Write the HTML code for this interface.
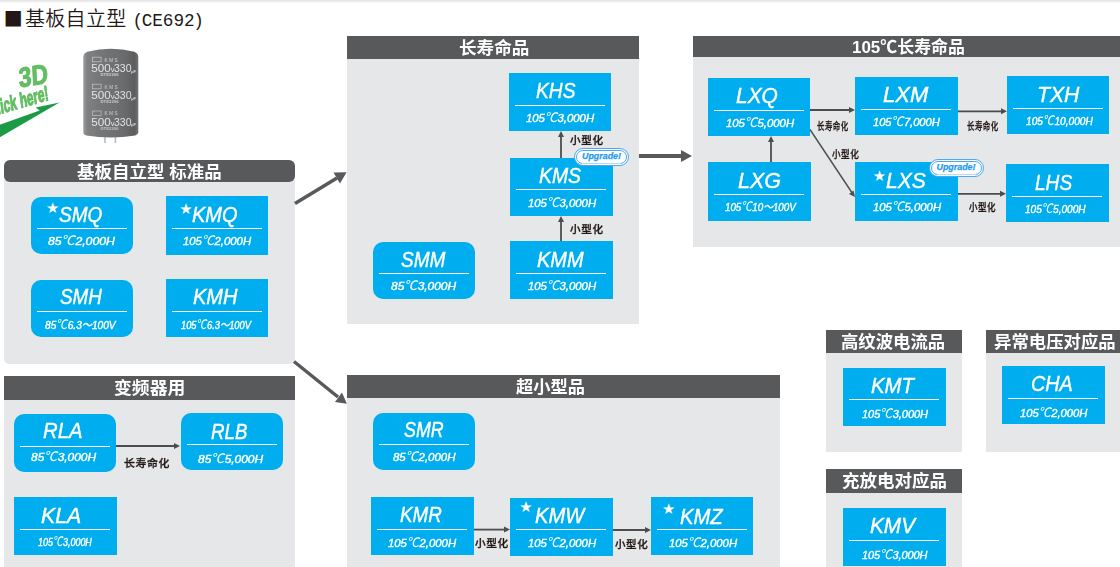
<!DOCTYPE html>
<html lang="zh-CN">
<head>
<meta charset="utf-8">
<title>基板自立型 (CE692)</title>
<style>
html,body{margin:0;padding:0;background:#fff;}
body{width:1120px;height:567px;overflow:hidden;font-family:"Liberation Sans","Noto Sans CJK SC",sans-serif;}
#page{position:relative;width:1120px;height:567px;overflow:hidden;background:#fff;}
.topbar{position:absolute;left:0;top:0;width:1120px;height:3px;background:linear-gradient(#e2e2e2,#f1f1f1 60%,#fff);}
.title{position:absolute;left:5px;top:6px;margin:0;font-weight:400;font-size:19px;line-height:24px;color:#231815;white-space:nowrap;}
.title .sq{display:inline-block;width:20px;height:24px;line-height:24px;vertical-align:top;position:relative;}
.title .sq i{position:absolute;left:-1.2px;top:-0.6px;font-style:normal;font-family:"DejaVu Sans",sans-serif;font-size:20px;line-height:24px;}
.title .zh{letter-spacing:0.3px;font-size:20px;font-family:"Noto Sans CJK SC",sans-serif;font-weight:350;}
.title .code{font-family:"Liberation Mono",monospace;font-size:17.7px;margin-left:6px;}
.title .code .p1{margin-right:-1.5px;}
.title .code .p2{margin-left:-1.5px;}
.pn{position:absolute;background:#e6e7e8;}
.pn.rnd{border-radius:6px 6px 5px 5px;}
.ph{position:relative;background:#58595b;color:#fff;}
.pn.rnd .ph{border-radius:6px;}
.ht{position:absolute;height:25px;line-height:25px;font-weight:700;font-size:17.2px;font-family:"Liberation Sans","Noto Sans CJK SC",sans-serif;white-space:nowrap;transform-origin:0 50%;}
.pb{position:absolute;background:#00aeef;color:#fff;}
.pb.r{border-radius:10px;}
.n{position:absolute;top:4.8px;height:26px;line-height:26px;font-style:italic;font-size:21.8px;-webkit-text-stroke:0.4px #fff;white-space:nowrap;transform-origin:0 50%;}
.st{position:absolute;font-style:normal;line-height:1;font-family:"DejaVu Sans",sans-serif;}
.ln{position:absolute;left:6px;width:90px;top:32px;height:1px;background:#fff;}
.s{position:absolute;top:35.1px;height:16px;line-height:16px;font-style:italic;font-size:11.6px;-webkit-text-stroke:0.4px #fff;white-space:nowrap;transform-origin:0 50%;}
.lb{position:absolute;height:16px;line-height:16px;font-size:10.6px;font-weight:500;letter-spacing:0.6px;color:#231815;-webkit-text-stroke:0.3px #231815;white-space:nowrap;font-family:"Noto Sans CJK SC",sans-serif;transform-origin:0 50%;}
.up{position:absolute;width:55px;height:18px;box-sizing:border-box;border:1px solid #4aa9f0;border-radius:9px;background:#fff;}
.up:before{content:"";position:absolute;left:1px;top:1px;right:1px;bottom:1px;border:1px solid #4aa9f0;border-radius:8px;}
.up span{position:absolute;left:0;right:0;top:-0.6px;height:16px;line-height:16px;text-align:center;font-size:8.9px;font-weight:700;font-style:italic;color:#1e9af0;-webkit-text-stroke:0.25px #1e9af0;}
svg.art{position:absolute;left:0;top:0;}
.s .c{font-family:"Noto Sans CJK SC",sans-serif;font-size:13px;font-weight:400;-webkit-text-stroke:0;line-height:16px;vertical-align:baseline;margin:0 0.5px 0 -0.5px;}
.up:after{content:"";position:absolute;left:7px;right:7px;bottom:1px;height:1px;background:#b5daf9;}

</style>
</head>
<body>
<div id="page">
<div class="topbar"></div>
<h1 class="title"><span class="sq"><i>■</i></span><span class="zh">基板自立型</span><span class="code"><span class="p1">(</span>CE692<span class="p2">)</span></span></h1>
<svg class="pic" width="160" height="112" viewBox="0 36 160 112" style="position:absolute;left:0;top:36px">
<defs>
<linearGradient id="cg" x1="0" y1="0" x2="1" y2="0">
<stop offset="0" stop-color="#9c9d9f"/><stop offset="0.07" stop-color="#808183"/><stop offset="0.3" stop-color="#757678"/><stop offset="0.75" stop-color="#6a6b6d"/><stop offset="0.93" stop-color="#5c5d5f"/><stop offset="1" stop-color="#707173"/>
</linearGradient>
<filter id="bl" x="-5%" y="-5%" width="110%" height="110%"><feGaussianBlur stdDeviation="0.45"/></filter>
<filter id="bl2" x="-5%" y="-5%" width="110%" height="110%"><feGaussianBlur stdDeviation="0.35"/></filter>
</defs>
<g filter="url(#bl)">
<rect x="104.2" y="134" width="1.6" height="9" fill="#b9babc"/>
<rect x="114.6" y="134" width="1.6" height="9" fill="#b9babc"/>
<path d="M83.3,57 Q83.4,53.4 87.3,51.8 Q110.8,45.6 134.3,51.8 Q138.2,53.4 138.3,57 L138.3,132.3 Q138.2,134.8 135.2,135.6 Q110.8,139.4 86.4,135.6 Q83.4,134.8 83.3,132.3 Z" fill="url(#cg)"/>
</g>
<g fill="#fff" font-family="'Liberation Sans',sans-serif" filter="url(#bl2)" opacity="0.8">
<g id="lab1">
<rect x="92.5" y="57.2" width="8.6" height="4.6" fill="none" stroke="#fff" stroke-width="0.7" opacity="0.75"/>
<text x="104.5" y="61.6" font-size="4.6" letter-spacing="1.6" opacity="0.85">KMS</text>
<text x="91.3" y="72.2" font-size="11.4" textLength="19.5" lengthAdjust="spacingAndGlyphs">500</text>
<text x="110.8" y="72.2" font-size="7.5">v</text>
<text x="114" y="72.2" font-size="11.8" textLength="17.5" lengthAdjust="spacingAndGlyphs">330</text>
<text x="131.2" y="72.6" font-size="3.8" font-weight="700">µF</text>
<text x="100.5" y="76" font-size="3.4" font-weight="700" opacity="0.8" textLength="18" lengthAdjust="spacingAndGlyphs">DTE2206</text>
</g>
<g>
<rect x="92.5" y="84.2" width="8.6" height="4.6" fill="none" stroke="#fff" stroke-width="0.7" opacity="0.7"/>
<text x="104.5" y="88.6" font-size="4.6" letter-spacing="1.6" opacity="0.8">KMS</text>
<text x="91.3" y="99.2" font-size="11.4" textLength="19.5" lengthAdjust="spacingAndGlyphs">500</text>
<text x="110.8" y="99.2" font-size="7.5">v</text>
<text x="114" y="99.2" font-size="11.8" textLength="17.5" lengthAdjust="spacingAndGlyphs">330</text>
<text x="131.2" y="99.6" font-size="3.8" font-weight="700">µF</text>
<text x="100.5" y="103" font-size="3.4" font-weight="700" opacity="0.75" textLength="18" lengthAdjust="spacingAndGlyphs">DTE2206</text>
</g>
<g>
<rect x="92.5" y="111" width="8.6" height="4.6" fill="none" stroke="#fff" stroke-width="0.7" opacity="0.65"/>
<text x="104.5" y="115.4" font-size="4.6" letter-spacing="1.6" opacity="0.8">KMS</text>
<text x="91.3" y="126" font-size="11.4" textLength="19.5" lengthAdjust="spacingAndGlyphs">500</text>
<text x="110.8" y="126" font-size="7.5">v</text>
<text x="114" y="126" font-size="11.8" textLength="17.5" lengthAdjust="spacingAndGlyphs">330</text>
<text x="131.2" y="126.4" font-size="3.8" font-weight="700">µF</text>
<text x="100.5" y="129.8" font-size="3.4" font-weight="700" opacity="0.7" textLength="18" lengthAdjust="spacingAndGlyphs">DTE2206</text>
</g>
</g>
<g filter="url(#bl2)">
<polygon points="59.5,102.6 35.7,107.4 39.7,110.5 -1,125 -1,137.8" fill="#1e9b47"/>
<g fill="#63bd63" stroke="#63bd63" stroke-width="0.9" stroke-linejoin="round" font-family="'Liberation Sans',sans-serif" font-weight="700">
<text transform="translate(19.3,87.6) rotate(-9) skewX(-6) scale(0.98,1.17)" font-size="23.5">3D</text>
<text transform="translate(-10.5,117) rotate(-16) skewX(-8) scale(0.76,1.3)" font-size="16">Click here!</text>
</g>
</g>
</svg>

<div class="pn rnd" style="left:4px;top:160.2px;width:291px;height:203.8px"><div class="ph" style="height:22.1px"><span class="ht" style="left:73.1px;top:-0.65px;transform:scaleX(1.0169)">基板自立型 标准品</span></div></div>
<div class="pn " style="left:4px;top:376.25px;width:291px;height:190.75px"><div class="ph" style="height:23.75px"><span class="ht" style="left:110px;top:0.18px;transform:scaleX(1.0375)">变频器用</span></div></div>
<div class="pn " style="left:347px;top:36px;width:291.7px;height:288px"><div class="ph" style="height:23px"><span class="ht" style="left:111.8px;top:-0.2px;transform:scaleX(1.0243)">长寿命品</span></div></div>
<div class="pn " style="left:347px;top:375px;width:433px;height:192px"><div class="ph" style="height:22.8px"><span class="ht" style="left:169px;top:-0.3px;transform:scaleX(1.0031)">超小型品</span></div></div>
<div class="pn " style="left:693px;top:36px;width:427px;height:210.5px"><div class="ph" style="height:21px"><span class="ht" style="left:159px;top:-1.2px;transform:scaleX(0.9859)">105℃长寿命品</span></div></div>
<div class="pn " style="left:826px;top:330px;width:136px;height:122px"><div class="ph" style="height:23px"><span class="ht" style="left:15px;top:-0.2px;transform:scaleX(1.0102)">高纹波电流品</span></div></div>
<div class="pn " style="left:986px;top:330px;width:134px;height:122px"><div class="ph" style="height:23px"><span class="ht" style="left:7.8px;top:-0.2px;transform:scaleX(1.0120)">异常电压对应品</span></div></div>
<div class="pn " style="left:826px;top:469px;width:136px;height:98px"><div class="ph" style="height:24px"><span class="ht" style="left:16.3px;top:0.3px;transform:scaleX(1.0177)">充放电对应品</span></div></div>
<svg class="art" width="1120" height="567" viewBox="0 0 1120 567">
<defs>
<marker id="ah" markerWidth="6" markerHeight="6" refX="5.5" refY="3" orient="auto" markerUnits="userSpaceOnUse"><path d="M0,0 L6,3 L0,6 Z" fill="#4d4d4f"/></marker>
<marker id="bh" markerWidth="12" markerHeight="12" refX="11" refY="6" orient="auto" markerUnits="userSpaceOnUse"><path d="M0,0 L12,6 L0,12 Z" fill="#58595b"/></marker>
</defs>
<g stroke="#58595b" stroke-width="3.5" fill="none">
<line x1="295" y1="203.6" x2="337" y2="178"/>
<line x1="294" y1="361.5" x2="338" y2="397"/>
<line x1="639" y1="156" x2="682" y2="156" stroke-width="4"/>
</g>
<g fill="#58595b">
<polygon points="346.6,172.2 333.5,172.5 340,183.5"/>
<polygon points="346.9,403.8 335,402 342,392.5"/>
<polygon points="692,156 681,150 681,162"/>
</g>
<g stroke="#4d4d4f" stroke-width="1.8" fill="none">
<line x1="116" y1="446" x2="175" y2="446"/>
<line x1="561" y1="158" x2="561" y2="135"/>
<line x1="561" y1="241" x2="561" y2="220"/>
<line x1="474" y1="529.6" x2="506" y2="529.6"/>
<line x1="613" y1="530" x2="647" y2="530"/>
<line x1="810" y1="110" x2="851" y2="110"/>
<line x1="958" y1="111.3" x2="1003" y2="111.3"/>
<line x1="771" y1="162" x2="771" y2="140"/>
<line x1="810" y1="129.5" x2="852.5" y2="193.5" stroke-width="1.4"/>
<line x1="958" y1="193.8" x2="1002" y2="193.8"/>
</g>
<g fill="#4d4d4f">
<polygon points="180,446 174,443 174,449"/>
<polygon points="561,131 558,137 564,137"/>
<polygon points="561,216 558,222 564,222"/>
<polygon points="510,529.6 504,526.6 504,532.6"/>
<polygon points="651,530 645,527 645,533"/>
<polygon points="855,110 849,107 849,113"/>
<polygon points="1007,111.3 1001,108.3 1001,114.3"/>
<polygon points="771,136 768,142 774,142"/>
<polygon points="855,197 849,194 853.5,190.5"/>
<polygon points="1006,193.8 1000,190.8 1000,196.8"/>
</g>
</svg>
<div class="pb r" style="left:31px;top:197px;width:102px;height:57px"><span class="st" style="left:14.88px;top:3.75px;font-size:14.8px">★</span><span class="n" style="left:27.75px;top:5px;transform:scaleX(0.8731)">SMQ</span><span class="ln" style="left:6px;top:31px"></span><span class="s" style="left:16.75px;top:35px;transform:scaleX(1.0566)">85<span class="c">℃</span>2,000H</span></div>
<div class="pb" style="left:166px;top:196px;width:102px;height:59px"><span class="st" style="left:13.25px;top:6.38px;font-size:14.8px">★</span><span class="n" style="left:26px;top:6px;transform:scaleX(0.9183)">KMQ</span><span class="ln" style="left:6px;top:32px"></span><span class="s" style="left:16.5px;top:36px;transform:scaleX(0.9758)">105<span class="c">℃</span>2,000H</span></div>
<div class="pb r" style="left:31px;top:280px;width:102px;height:57px"><span class="n" style="left:29px;top:4px;transform:scaleX(0.8640)">SMH</span><span class="ln" style="left:6px;top:31px"></span><span class="s" style="left:14.25px;top:36px;transform:scaleX(0.8746)">85<span class="c">℃</span>6.3～100V</span></div>
<div class="pb" style="left:166px;top:279px;width:102px;height:58px"><span class="n" style="left:26.75px;top:5px;transform:scaleX(0.9183)">KMH</span><span class="ln" style="left:6px;top:32px"></span><span class="s" style="left:14.75px;top:37px;transform:scaleX(0.8024)">105<span class="c">℃</span>6.3～100V</span></div>
<div class="pb r" style="left:14px;top:414px;width:102px;height:58px"><span class="n" style="left:28.75px;top:4px;transform:scaleX(0.9321)">RLA</span><span class="ln" style="left:6px;top:32px"></span><span class="s" style="left:17.25px;top:34px;transform:scaleX(1.0286)">85<span class="c">℃</span>3,000H</span></div>
<div class="pb r" style="left:181px;top:413px;width:102px;height:57px"><span class="n" style="left:29.5px;top:6px;transform:scaleX(0.8579)">RLB</span><span class="ln" style="left:6px;top:31px"></span><span class="s" style="left:17.25px;top:37px;transform:scaleX(1.0286)">85<span class="c">℃</span>5,000H</span></div>
<div class="pb" style="left:14px;top:497px;width:103px;height:58px"><span class="n" style="left:27.25px;top:6px;transform:scaleX(0.9768)">KLA</span><span class="ln" style="left:6px;top:32px"></span><span class="s" style="left:23.75px;top:36px;transform:scaleX(0.7717)">105<span class="c">℃</span>3,000H</span></div>
<div class="pb" style="left:509px;top:73px;width:102px;height:58px"><span class="n" style="left:26.5px;top:5px;transform:scaleX(0.8806)">KHS</span><span class="ln" style="left:6px;top:32px"></span><span class="s" style="left:16.75px;top:36px;transform:scaleX(0.9759)">105<span class="c">℃</span>3,000H</span></div>
<div class="pb" style="left:510px;top:158px;width:103px;height:58px"><span class="n" style="left:28.75px;top:5px;transform:scaleX(0.8908)">KMS</span><span class="ln" style="left:6px;top:31px"></span><span class="s" style="left:17.5px;top:36px;transform:scaleX(0.9758)">105<span class="c">℃</span>3,000H</span></div>
<div class="pb" style="left:510px;top:241px;width:103px;height:58px"><span class="n" style="left:27px;top:6px;transform:scaleX(0.9172)">KMM</span><span class="ln" style="left:6px;top:32px"></span><span class="s" style="left:17.5px;top:36px;transform:scaleX(0.9758)">105<span class="c">℃</span>3,000H</span></div>
<div class="pb r" style="left:373px;top:242px;width:102px;height:57px"><span class="n" style="left:28.25px;top:5px;transform:scaleX(0.8744)">SMM</span><span class="ln" style="left:6px;top:31px"></span><span class="s" style="left:18.25px;top:35px;transform:scaleX(1.0286)">85<span class="c">℃</span>3,000H</span></div>
<div class="pb r" style="left:373px;top:413px;width:102px;height:57px"><span class="n" style="left:30.75px;top:4px;transform:scaleX(0.8174)">SMR</span><span class="ln" style="left:6px;top:31px"></span><span class="s" style="left:20px;top:35px;transform:scaleX(0.9860)">85<span class="c">℃</span>2,000H</span></div>
<div class="pb" style="left:371px;top:497px;width:103px;height:58px"><span class="n" style="left:29px;top:5px;transform:scaleX(0.8636)">KMR</span><span class="ln" style="left:6px;top:32px"></span><span class="s" style="left:17.25px;top:37px;transform:scaleX(0.9758)">105<span class="c">℃</span>2,000H</span></div>
<div class="pb" style="left:510px;top:498px;width:103px;height:58px"><span class="st" style="left:9.25px;top:2.25px;font-size:14.8px">★</span><span class="n" style="left:25px;top:5px;transform:scaleX(0.9245)">KMW</span><span class="ln" style="left:6px;top:31px"></span><span class="s" style="left:17.5px;top:36px;transform:scaleX(0.9758)">105<span class="c">℃</span>2,000H</span></div>
<div class="pb" style="left:651px;top:497px;width:102px;height:58px"><span class="st" style="left:10.88px;top:5.38px;font-size:14.8px">★</span><span class="n" style="left:29px;top:7px;transform:scaleX(0.9287)">KMZ</span><span class="ln" style="left:6px;top:32px"></span><span class="s" style="left:17.75px;top:37px;transform:scaleX(0.9758)">105<span class="c">℃</span>2,000H</span></div>
<div class="pb" style="left:708px;top:78px;width:102px;height:58px"><span class="n" style="left:27.75px;top:5px;transform:scaleX(0.9610)">LXQ</span><span class="ln" style="left:6px;top:32px"></span><span class="s" style="left:17.5px;top:36px;transform:scaleX(0.9758)">105<span class="c">℃</span>5,000H</span></div>
<div class="pb" style="left:855px;top:77px;width:103px;height:58px"><span class="n" style="left:28px;top:5px;transform:scaleX(1.0089)">LXM</span><span class="ln" style="left:6px;top:32px"></span><span class="s" style="left:17.75px;top:36px;transform:scaleX(0.9566)">105<span class="c">℃</span>7,000H</span></div>
<div class="pb" style="left:1007px;top:76px;width:102px;height:58px"><span class="n" style="left:29.6px;top:6px;transform:scaleX(0.9728)">TXH</span><span class="ln" style="left:6px;top:32px"></span><span class="s" style="left:18.8px;top:36px;transform:scaleX(0.8777)">105<span class="c">℃</span>10,000H</span></div>
<div class="pb" style="left:708px;top:162px;width:103px;height:59px"><span class="n" style="left:29.5px;top:6px;transform:scaleX(0.9833)">LXG</span><span class="ln" style="left:6px;top:32px"></span><span class="s" style="left:16.5px;top:36px;transform:scaleX(0.8428)">105<span class="c">℃</span>10～100V</span></div>
<div class="pb" style="left:855px;top:162px;width:103px;height:59px"><span class="st" style="left:17.75px;top:6.5px;font-size:14.8px">★</span><span class="n" style="left:30.75px;top:6px;transform:scaleX(0.9644)">LXS</span><span class="ln" style="left:6px;top:32px"></span><span class="s" style="left:17.75px;top:36px;transform:scaleX(0.9758)">105<span class="c">℃</span>5,000H</span></div>
<div class="pb" style="left:1006px;top:164px;width:103px;height:58px"><span class="n" style="left:29.1px;top:6px;transform:scaleX(0.8755)">LHS</span><span class="ln" style="left:6px;top:32px"></span><span class="s" style="left:18.8px;top:36px;transform:scaleX(0.8675)">105<span class="c">℃</span>5,000H</span></div>
<div class="pb" style="left:843px;top:368px;width:103px;height:58px"><span class="n" style="left:28.3px;top:5px;transform:scaleX(0.9336)">KMT</span><span class="ln" style="left:6px;top:31px"></span><span class="s" style="left:18.8px;top:37px;transform:scaleX(0.9465)">105<span class="c">℃</span>3,000H</span></div>
<div class="pb" style="left:1002px;top:366px;width:103px;height:58px"><span class="n" style="left:29px;top:5px;transform:scaleX(0.9082)">CHA</span><span class="ln" style="left:6px;top:32px"></span><span class="s" style="left:18px;top:38px;transform:scaleX(0.9644)">105<span class="c">℃</span>2,000H</span></div>
<div class="pb" style="left:843px;top:508px;width:103px;height:58px"><span class="n" style="left:27px;top:5px;transform:scaleX(0.9543)">KMV</span><span class="ln" style="left:6px;top:32px"></span><span class="s" style="left:18.8px;top:38px;transform:scaleX(0.9389)">105<span class="c">℃</span>3,000H</span></div>
<span class="lb" style="left:123.75px;top:455.12px;transform:scaleX(1.0286)">长寿命化</span>
<span class="lb" style="left:569.5px;top:132.25px;transform:scaleX(1.0009)">小型化</span>
<span class="lb" style="left:570.25px;top:221px;transform:scaleX(1.0009)">小型化</span>
<span class="lb" style="left:475px;top:535.38px;transform:scaleX(1.0080)">小型化</span>
<span class="lb" style="left:615px;top:536.12px;transform:scaleX(0.9931)">小型化</span>
<span class="lb" style="left:817px;top:118px;transform:scaleX(0.7045)">长寿命化</span>
<span class="lb" style="left:967px;top:117.65px;transform:scaleX(0.7073)">长寿命化</span>
<span class="lb" style="left:832px;top:146px;transform:scaleX(0.8116)">小型化</span>
<span class="lb" style="left:969px;top:199.05px;transform:scaleX(0.8065)">小型化</span>
<div class="up" style="left:574px;top:148px"><span>Upgrade!</span></div>
<div class="up" style="left:928.5px;top:159px"><span>Upgrade!</span></div>
</div>
</body>
</html>
